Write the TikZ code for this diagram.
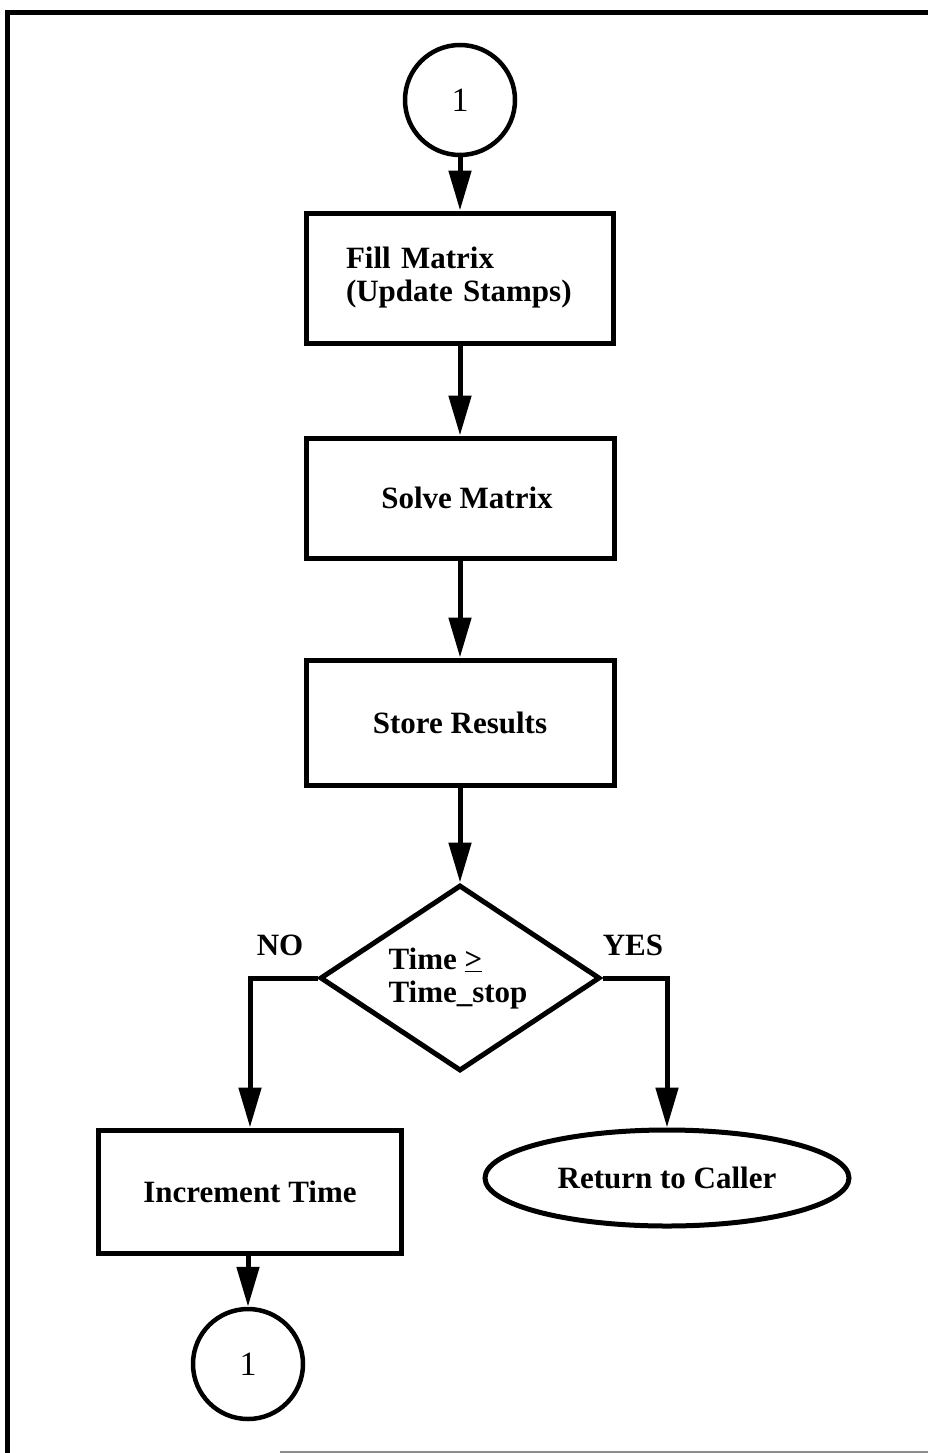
\documentclass[tikz,border=0pt]{standalone}
\usepackage{fontspec}
\setmainfont{Liberation Serif}
\usetikzlibrary{arrows.meta,shapes.geometric}
\begin{document}
\begin{tikzpicture}[x=1pt,y=-1pt,
  txt/.style={font=\fontsize{31}{33}\selectfont\bfseries},
  stepbox/.style={draw,line width=5pt,inner sep=0pt,txt},
  connector/.style={draw,circle,line width=4.5pt,minimum size=110pt,inner sep=0pt,
    font=\fontsize{34}{36}\selectfont},
  flow/.style={line width=5pt,-{Triangle[length=40pt,width=22pt]}},
  frameline/.style={line width=5pt}
]
\useasboundingbox (0,0) rectangle (928,1453);

% outer frame
\coordinate (fa) at (7.5,1453);
\coordinate (fb) at (7.5,12.5);
\coordinate (fc) at (928,12.5);
\draw[frameline] (fa) -- (fb) -- (fc);
\coordinate (ga) at (280,1451.5);
\coordinate (gb) at (928,1451.5);
\draw[line width=2pt,black!45] (ga) -- (gb);

% main column
\node[connector] (top) at (460,100) {1};
\node[stepbox,minimum width=307pt,minimum height=130pt,text width=228pt,align=left]
  (fill) at (460,278) {Fill Matrix\\(Update Stamps)};
\node[stepbox,minimum width=308pt,minimum height=120pt] (solve) at (460,498)
  {\hspace*{14pt}Solve Matrix};
\node[stepbox,minimum width=308pt,minimum height=125pt] (store) at (460,722.5)
  {Store Results};

% decision
\node[draw,diamond,line width=5pt,inner sep=0pt,minimum width=280pt,minimum height=186pt]
  (dec) at (460,978) {};
\node[txt,align=left,inner sep=0pt] (dectxt) at (458,979)
  {Time \underline{>}\\Time\_stop};

% branches
\node[stepbox,minimum width=303pt,minimum height=123pt] (inc) at (250,1191.5)
  {Increment Time};
\node[draw,ellipse,line width=5pt,inner sep=0pt,minimum width=364pt,minimum height=96pt,txt]
  (ret) at (667,1178) {Return to Caller};
\node[connector] (bot) at (248,1364) {1};

\node[txt,anchor=base] (no) at (280,955) {NO};
\node[txt,anchor=base] (yes) at (633,955) {YES};

% connectors
\draw[flow] (top) -- (fill);
\draw[flow] (fill) -- (solve);
\draw[flow] (solve) -- (store);
\draw[flow] (store) -- (dec.north);
\draw[flow] (dec.west) -| (inc.north);
\draw[flow] (dec.east) -| (ret.north);
\draw[flow] (inc.south -| bot) -- (bot);
\end{tikzpicture}
\end{document}
